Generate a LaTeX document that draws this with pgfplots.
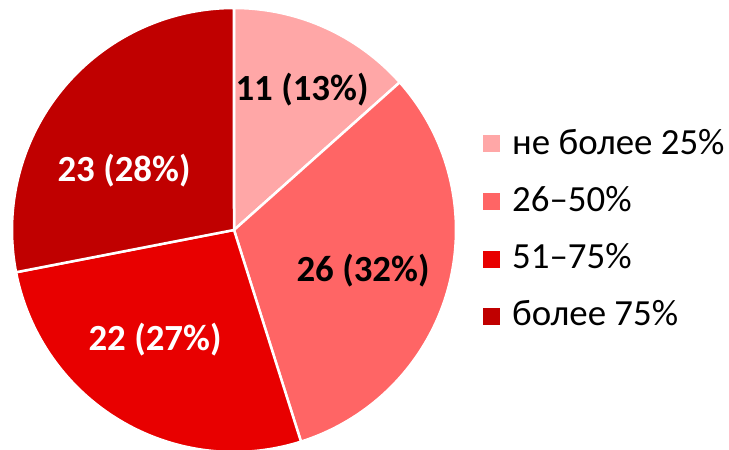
\documentclass[border=0pt]{standalone}
\usepackage{pgfplots}
\pgfplotsset{compat=1.18}
\usepackage{fontspec}
\setmainfont{Carlito}
\definecolor{c1}{HTML}{FFA7A7}
\definecolor{c2}{HTML}{FF6565}
\definecolor{c3}{HTML}{E80000}
\definecolor{c4}{HTML}{C00000}
% data
\def\vA{11}\def\vB{26}\def\vC{22}\def\vD{23}
\pgfmathsetmacro{\tot}{\vA+\vB+\vC+\vD}
\pgfmathsetmacro{\aO}{90}
\pgfmathsetmacro{\aA}{\aO-\vA/\tot*360}
\pgfmathsetmacro{\aB}{\aA-\vB/\tot*360}
\pgfmathsetmacro{\aC}{\aB-\vC/\tot*360}
\pgfmathsetmacro{\aD}{\aC-\vD/\tot*360}
\def\cx{234}\def\cy{220}\def\R{222}
\begin{document}
\begin{tikzpicture}
\begin{axis}[width=729bp, height=450bp, scale only axis,
  xmin=0, xmax=729, ymin=0, ymax=450, axis lines=none, clip=true]
\addplot[fill=c1, draw=white, line width=2.5bp, domain=\aA:\aO, samples=80]
  ({\cx+\R*cos(x)},{\cy+\R*sin(x)}) -- (axis cs:\cx,\cy) -- cycle;
\addplot[fill=c2, draw=white, line width=2.5bp, domain=\aB:\aA, samples=80]
  ({\cx+\R*cos(x)},{\cy+\R*sin(x)}) -- (axis cs:\cx,\cy) -- cycle;
\addplot[fill=c3, draw=white, line width=2.5bp, domain=\aC:\aB, samples=80]
  ({\cx+\R*cos(x)},{\cy+\R*sin(x)}) -- (axis cs:\cx,\cy) -- cycle;
\addplot[fill=c4, draw=white, line width=2.5bp, domain=\aD:\aC, samples=80]
  ({\cx+\R*cos(x)},{\cy+\R*sin(x)}) -- (axis cs:\cx,\cy) -- cycle;
% slice labels
\node[font=\fontsize{37}{44}\selectfont\bfseries, text=black] at (axis cs:302,360) {11 (13\%)};
\node[font=\fontsize{37}{44}\selectfont\bfseries, text=black] at (axis cs:363,179) {26 (32\%)};
\node[font=\fontsize{37}{44}\selectfont\bfseries, text=white] at (axis cs:155,110) {22 (27\%)};
\node[font=\fontsize{37}{44}\selectfont\bfseries, text=white] at (axis cs:124,279) {23 (28\%)};
% legend
\fill[c1] (axis cs:483,297.5) rectangle (axis cs:500,314.5);
\fill[c2] (axis cs:483,239.5) rectangle (axis cs:500,256.5);
\fill[c3] (axis cs:483,182) rectangle (axis cs:500,199);
\fill[c4] (axis cs:483,125) rectangle (axis cs:500,142);
\node[anchor=base west, inner sep=0pt, font=\fontsize{37}{44}\selectfont] at (axis cs:512,295) {не более 25\%};
\node[anchor=base west, inner sep=0pt, font=\fontsize{37}{44}\selectfont] at (axis cs:512,238) {26–50\%};
\node[anchor=base west, inner sep=0pt, font=\fontsize{37}{44}\selectfont] at (axis cs:512,181) {51–75\%};
\node[anchor=base west, inner sep=0pt, font=\fontsize{37}{44}\selectfont] at (axis cs:512,124) {более 75\%};
\end{axis}
\pgfresetboundingbox
\path[use as bounding box] (current axis.south west) rectangle (current axis.north east);
\end{tikzpicture}
\end{document}
